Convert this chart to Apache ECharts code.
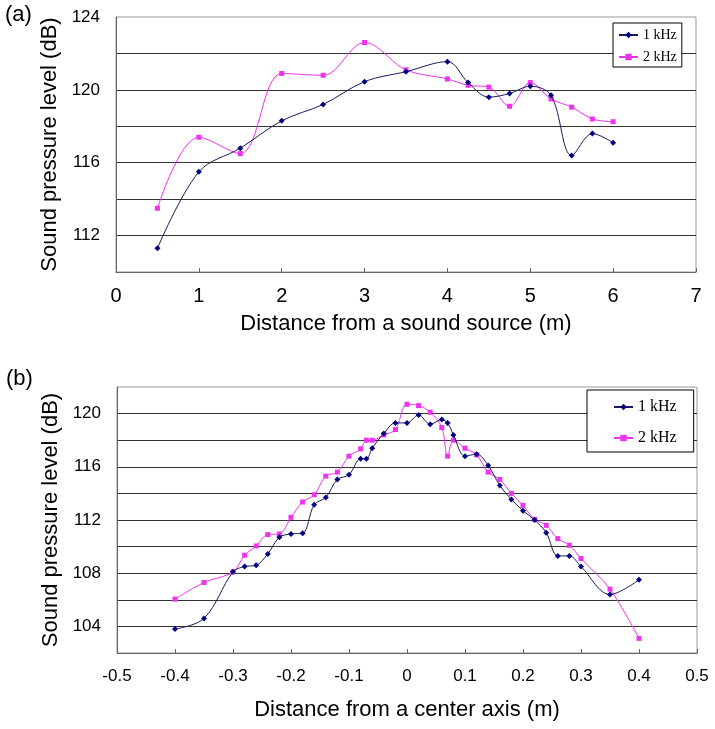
<!DOCTYPE html>
<html>
<head>
<meta charset="utf-8">
<script src="https://cdn.jsdelivr.net/npm/echarts@6/dist/echarts.min.js"></script>
<style>
html,body{margin:0;padding:0;background:#fff;}
#main{width:715px;height:729px;}
</style>
</head>
<body>
<div id="main"></div>
<script>
// (a) distance from the source, m
var distA = [0.5, 1, 1.5, 2, 2.5, 3, 3.5, 4, 4.25, 4.5, 4.75, 5, 5.25, 5.5, 5.75, 6];
var splA1k = [111.3, 115.5, 116.8, 118.3, 119.2, 120.45, 121.0, 121.55, 120.4, 119.6, 119.8, 120.2, 119.7, 116.4, 117.6, 117.1];
var splA2k = [113.5, 117.4, 116.5, 120.9, 120.8, 122.6, 121.1, 120.6, 120.25, 120.15, 119.1, 120.4, 119.5, 119.05, 118.4, 118.25];

// (b) distance from the centre axis, m
var distB = [-0.4, -0.35, -0.3, -0.28, -0.26, -0.24, -0.22, -0.2, -0.18, -0.16,
             -0.14, -0.12, -0.1, -0.08, -0.07, -0.06, -0.04, -0.02, 0, 0.02,
             0.04, 0.06, 0.07, 0.08, 0.1, 0.12, 0.14, 0.16, 0.18, 0.2,
             0.22, 0.24, 0.26, 0.28, 0.3, 0.35, 0.4];
var splB1k = [103.8, 104.6, 108.1, 108.5, 108.6, 109.45, 110.7, 110.95, 111.0, 113.15,
              113.7, 115.05, 115.4, 116.6, 116.6, 117.4, 118.5, 119.3, 119.3, 119.9,
              119.2, 119.55, 119.3, 118.4, 116.8, 116.95, 116.1, 114.6, 113.55, 112.7,
              112.0, 111.05, 109.3, 109.3, 108.5, 106.4, 107.5];
var splB2k = [106.05, 107.3, 108.1, 109.35, 110.05, 110.9, 110.95, 112.2, 113.35, 113.9,
              115.3, 115.6, 116.8, 117.35, 118.0, 118.0, 118.4, 118.8, 120.7, 120.6,
              120.1, 118.95, 116.8, 118.0, 117.4, 116.9, 115.6, 115.05, 114.0, 113.1,
              112.05, 111.6, 110.6, 110.1, 109.1, 106.8, 103.1];

var seriesNames = ['1 kHz', '2 kHz'];

function zip(xs, ys){
    var out = [];
    for (var i = 0; i < xs.length; i++) out.push([xs[i], ys[i]]);
    return out;
}

var NAVY = '#000080', PINK = '#ee33ee';
var FONT = '"Liberation Sans", Arial, sans-serif';

function lineSeries(name, data, idx, navy){
    return {
        name: name, type: 'line', xAxisIndex: idx, yAxisIndex: idx,
        data: data, smooth: 0.35,
        symbol: navy ? 'diamond' : 'rect',
        symbolSize: navy ? 6 : 5,
        lineStyle: {width: 1, color: navy ? '#1a1a5e' : PINK},
        itemStyle: {color: navy ? NAVY : PINK},
        z: navy ? 3 : 2
    };
}

function yAxisOpt(idx, min, max){
    return {
        type: 'value', gridIndex: idx, min: min, max: max, interval: 2,
        name: 'Sound pressure level (dB)', nameLocation: 'middle', nameGap: 55,
        nameTextStyle: {fontFamily: FONT, fontSize: 22, color: '#000'},
        axisLine: {show: true, onZero: false, lineStyle: {color: '#666'}},
        axisTick: {show: false},
        axisLabel: {fontFamily: FONT, fontSize: 17, color: '#000', margin: 16,
            formatter: function(v){ return v % 4 === 0 ? v : ''; }},
        splitLine: {show: true, showMinLine: false, showMaxLine: false,
            lineStyle: {color: '#333', width: 1}}
    };
}

function xAxisOpt(idx, min, max, step, name, fs, margin, gap){
    return {
        type: 'value', gridIndex: idx, min: min, max: max, interval: step,
        name: name, nameLocation: 'middle', nameGap: gap,
        nameTextStyle: {fontFamily: FONT, fontSize: 22, color: '#000'},
        axisLine: {show: true, onZero: false, lineStyle: {color: '#666'}},
        axisTick: {show: true, inside: true, length: 4, lineStyle: {color: '#666'}},
        axisLabel: {fontFamily: FONT, fontSize: fs, color: '#000', margin: margin},
        splitLine: {show: false}
    };
}

var option = {
    backgroundColor: '#fff',
    animation: false,
    grid: [
        {left: 116, top: 17, width: 580, height: 255, show: true,
         borderColor: '#999', borderWidth: 1, containLabel: false, outerBoundsMode: 'none'},
        {left: 117, top: 387, width: 580, height: 266, show: true,
         borderColor: '#999', borderWidth: 1, containLabel: false, outerBoundsMode: 'none'}
    ],
    legend: [
        {data: seriesNames, orient: 'vertical', left: 613, top: 23,
         itemWidth: 19, itemHeight: 8, itemGap: 8, padding: [5, 5, 3, 5],
         borderColor: '#000', borderWidth: 1, backgroundColor: '#fff',
         textStyle: {fontFamily: '"Liberation Serif", "Times New Roman", serif', fontSize: 14, color: '#000'}},
        {data: seriesNames, orient: 'vertical', left: 587, top: 390,
         itemWidth: 19, itemHeight: 8, itemGap: 15, padding: [9, 17, 6, 26],
         borderColor: '#000', borderWidth: 1, backgroundColor: '#fff',
         textStyle: {fontFamily: '"Liberation Serif", "Times New Roman", serif', fontSize: 16, color: '#000'}}
    ],
    graphic: [
        {type: 'text', left: 5, top: 4, style: {text: '(a)', fontFamily: FONT, fontSize: 22, fill: '#000'}},
        {type: 'text', left: 6, top: 368, style: {text: '(b)', fontFamily: FONT, fontSize: 22, fill: '#000'}}
    ],
    xAxis: [
        xAxisOpt(0, 0, 7, 1, 'Distance from a sound source (m)', 20, 14, 41),
        xAxisOpt(1, -0.5, 0.5, 0.1, 'Distance from a center axis (m)', 17, 15, 46)
    ],
    yAxis: [
        yAxisOpt(0, 110, 124),
        yAxisOpt(1, 102, 122)
    ],
    series: [
        lineSeries(seriesNames[0], zip(distA, splA1k), 0, true),
        lineSeries(seriesNames[1], zip(distA, splA2k), 0, false),
        lineSeries(seriesNames[0], zip(distB, splB1k), 1, true),
        lineSeries(seriesNames[1], zip(distB, splB2k), 1, false)
    ]
};

var myChart = echarts.init(document.getElementById('main'));
myChart.setOption(option);
</script>
</body>
</html>
